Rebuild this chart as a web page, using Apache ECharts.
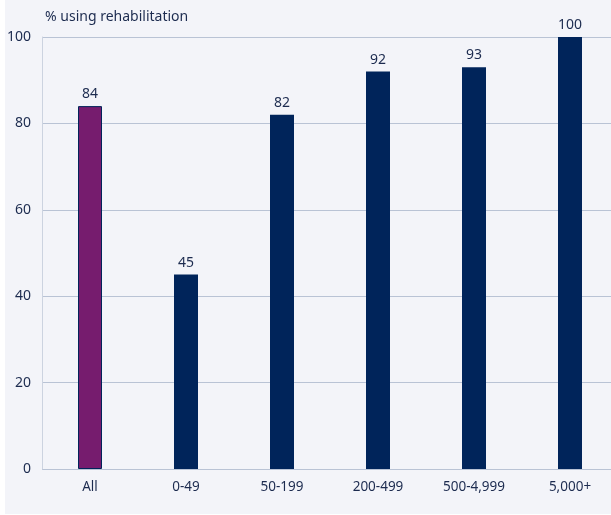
<!DOCTYPE html>
<html>
<head>
<meta charset="utf-8">
<style type="text/css">
    html, body{
        margin:0;
        padding:0;
        background:#ffffff;
    }
    #chart{
        position:absolute;
        left:5px;
        top:0;
        width:606px;
        height:514px;
        background:#f3f4f9;
    }
</style>
<script src="https://cdn.jsdelivr.net/npm/echarts@6/dist/echarts.min.js"></script>
</head>
<body>
<div id="chart"></div>
<script type="text/javascript">
    // data
    var categories = ['All', '0-49', '50-199', '200-499', '500-4,999', '5,000+'];
    var values = [84, 45, 82, 92, 93, 100];
    var yTicks = [0, 20, 40, 60, 80, 100];

    var textColor = '#1c2b4f';
    var navy = '#00245a';
    var purple = '#761c6e';

    var chart = echarts.init(document.getElementById('chart'));

    var seriesData = values.map(function (v, i) {
        if (i === 0) {
            return {value: v, itemStyle: {color: purple, borderColor: navy, borderWidth: 1}};
        }
        return {value: v, itemStyle: {color: navy}};
    });

    chart.setOption({
        animation: false,
        textStyle: {fontFamily: 'Noto Sans'},
        title: {
            text: '% using rehabilitation',
            left: 35,
            top: 5,
            textStyle: {fontSize: 14, fontWeight: 'normal', color: textColor, fontFamily: 'Noto Sans'}
        },
        grid: {left: 37, right: -7, top: 37, bottom: 45, outerBoundsMode: 'none', containLabel: false},
        xAxis: {
            type: 'category',
            data: categories,
            axisLine: {show: false},
            axisTick: {show: false},
            axisLabel: {color: textColor, fontSize: 13.5, margin: 11}
        },
        yAxis: {
            type: 'value',
            min: yTicks[0],
            max: yTicks[yTicks.length - 1],
            interval: 20,
            axisLine: {show: true, lineStyle: {color: '#ccd3e0', width: 1}},
            axisTick: {show: false},
            axisLabel: {color: textColor, fontSize: 14, margin: 11},
            splitLine: {lineStyle: {color: '#b9c3d5', width: 1}}
        },
        series: [{
            type: 'bar',
            data: seriesData,
            barWidth: 24,
            label: {
                show: true,
                position: 'top',
                distance: 5,
                color: textColor,
                fontSize: 14
            }
        }]
    });
</script>
</body>
</html>
